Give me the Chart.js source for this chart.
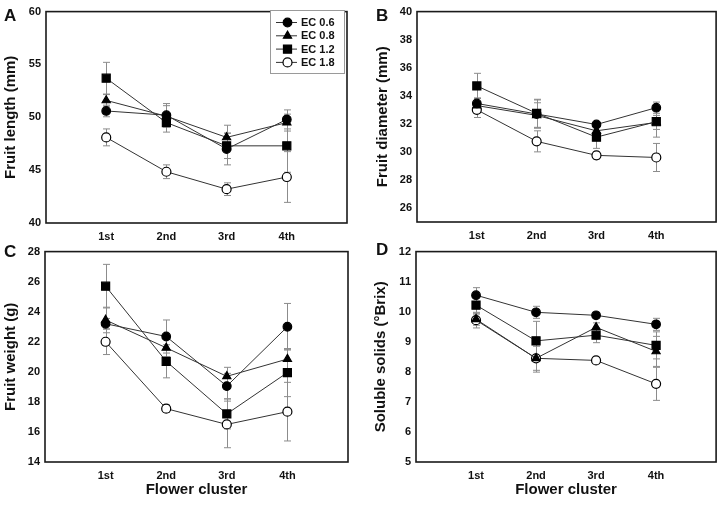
<!DOCTYPE html>
<html>
<head>
<meta charset="utf-8">
<script src="https://cdn.jsdelivr.net/npm/chart.js@4.4.0/dist/chart.umd.min.js"></script>
<style>
  body { margin: 0; background: #fff; width: 723px; height: 507px; overflow: hidden; position: relative; font-family: "Liberation Sans", Arial, sans-serif; }
  .panel { position: absolute; }
  .tag { position: absolute; font-weight: bold; font-size: 17px; color: #111; line-height: 1; }
</style>
</head>
<body>
<div class="panel" style="left:0;top:0"><canvas id="chartA" width="361" height="250"></canvas></div>
<div class="panel" style="left:361px;top:0"><canvas id="chartB" width="362" height="250"></canvas></div>
<div class="panel" style="left:0;top:240px"><canvas id="chartC" width="361" height="267"></canvas></div>
<div class="panel" style="left:361px;top:240px"><canvas id="chartD" width="362" height="267"></canvas></div>
<div class="tag" style="left:4px;top:7px">A</div>
<div class="tag" style="left:376px;top:7px">B</div>
<div class="tag" style="left:4px;top:243px">C</div>
<div class="tag" style="left:376px;top:241px">D</div>

<script>
// --- Data ---
const clusters = ['1st', '2nd', '3rd', '4th'];
const seriesNames = ['EC 0.6', 'EC 0.8', 'EC 1.2', 'EC 1.8'];

// series order: EC 0.6, EC 0.8, EC 1.2, EC 1.8
const lengthMeans = [
    [50.6, 50.2, 47.0, 49.8],
    [51.6, 50.1, 48.1, 49.5],
    [53.7, 49.5, 47.3, 47.3],
    [48.1, 44.85, 43.2, 44.35]
];
const lengthErrs = [
    [0.55, 1.1, 1.5, 0.9],
    [0.55, 1.0, 1.15, 0.8],
    [1.5, 0.9, 1.2, 2.5],
    [0.8, 0.65, 0.6, 2.4]
];
const lengthTicks = [40, 45, 50, 55, 60];

const diameterMeans = [
    [33.45, 32.7, 31.95, 33.15],
    [33.3, 32.6, 31.5, 32.1],
    [34.7, 32.75, 31.05, 32.15],
    [33.0, 30.75, 29.75, 29.6]
];
const diameterErrs = [
    [0.4, 1.0, 0.2, 0.4],
    [0.5, 0.9, 0.3, 0.5],
    [0.9, 1.0, 0.8, 1.1],
    [0.55, 0.75, 0.25, 1.0]
];
const diameterTicks = [26, 28, 30, 32, 34, 36, 38, 40];

const weightMeans = [
    [23.2, 22.35, 19.05, 23.0],
    [23.45, 21.6, 19.7, 20.85],
    [25.7, 20.7, 17.2, 19.95],
    [22.0, 17.55, 16.5, 17.35]
];
const weightErrs = [
    [0.35, 1.1, 0.85, 1.55],
    [0.85, 0.6, 0.6, 0.65],
    [1.45, 1.1, 1.0, 1.6],
    [0.85, 0.25, 1.55, 1.95]
];
const weightTicks = [14, 16, 18, 20, 22, 24, 26, 28];

const brixMeans = [
    [10.55, 9.98, 9.88, 9.58],
    [9.75, 8.45, 9.48, 8.68],
    [10.22, 9.03, 9.22, 8.88],
    [9.72, 8.45, 8.38, 7.6]
];
const brixErrs = [
    [0.25, 0.2, 0.08, 0.2],
    [0.2, 0.4, 0.15, 0.5],
    [0.3, 0.65, 0.25, 0.45],
    [0.26, 0.46, 0.1, 0.55]
];
const brixTicks = [5, 6, 7, 8, 9, 10, 11, 12];

// --- Styles ---
const markerStyles = ['circle', 'triangle', 'rect', 'circle'];
const markerRadius = [4.3, 4.7, 5.7, 4.5];
const markerFill = ['#000', '#000', '#000', '#fff'];
const FONT = '"Liberation Sans", Arial, sans-serif';

// gray error bars with caps, drawn under the lines
const errorBars = {
    id: 'errorBars',
    beforeDatasetsDraw(chart) {
        const { ctx, scales: { x, y } } = chart;
        ctx.save();
        ctx.strokeStyle = '#8c8c8c';
        ctx.lineWidth = 1;
        chart.data.datasets.forEach(ds => {
            ds.data.forEach((p, i) => {
                const e = ds.errors[i];
                const px = Math.round(x.getPixelForValue(p.x)) + 0.5;
                const top = y.getPixelForValue(p.y + e);
                const bot = y.getPixelForValue(p.y - e);
                ctx.beginPath();
                ctx.moveTo(px, top); ctx.lineTo(px, bot);
                ctx.moveTo(px - 3.5, top); ctx.lineTo(px + 3.5, top);
                ctx.moveTo(px - 3.5, bot); ctx.lineTo(px + 3.5, bot);
                ctx.stroke();
            });
        });
        ctx.restore();
    }
};

// box around the plot area
const frame = {
    id: 'frame',
    afterDraw(chart) {
        const { ctx, chartArea: a } = chart;
        ctx.save();
        ctx.strokeStyle = '#1a1a1a';
        ctx.lineWidth = 1.6;
        ctx.strokeRect(a.left, a.top, a.right - a.left, a.bottom - a.top);
        ctx.restore();
    }
};

// legend box drawn inside panel A
const boxLegend = {
    id: 'boxLegend',
    afterDraw(chart, args, opts) {
        if (!opts.show) return;
        const { ctx } = chart;
        ctx.save();
        ctx.fillStyle = '#fff';
        ctx.fillRect(opts.x, opts.y, opts.w, opts.h);
        ctx.strokeStyle = '#9a9a9a';
        ctx.lineWidth = 1;
        ctx.strokeRect(opts.x + 0.5, opts.y + 0.5, opts.w, opts.h);
        chart.data.datasets.forEach((ds, i) => {
            const cy = opts.y + 12.5 + i * 13.3;
            ctx.strokeStyle = '#333';
            ctx.beginPath();
            ctx.moveTo(opts.x + 6, cy); ctx.lineTo(opts.x + 27, cy);
            ctx.stroke();
            ctx.fillStyle = ds.pointBackgroundColor;
            ctx.strokeStyle = '#000';
            ctx.lineWidth = 1.2;
            Chart.helpers.drawPoint(ctx, {
                pointStyle: ds.pointStyle, radius: ds.pointRadius, borderWidth: 1.2
            }, opts.x + 17.5, cy);
            ctx.lineWidth = 1;
            ctx.fillStyle = '#111';
            ctx.font = 'bold 11px ' + FONT;
            ctx.textBaseline = 'middle';
            ctx.fillText(ds.label, opts.x + 31, cy + 0.5);
        });
        ctx.restore();
    }
};

function makePanel(canvasId, means, errs, ticks, yTitle, box) {
    const datasets = seriesNames.map((name, s) => ({
        label: name,
        data: means[s].map((v, i) => ({ x: i + 1, y: v })),
        errors: errs[s],
        borderColor: '#333',
        borderWidth: 1,
        pointStyle: markerStyles[s],
        pointRadius: markerRadius[s],
        pointBackgroundColor: markerFill[s],
        pointBorderColor: '#000',
        pointBorderWidth: 1.2
    }));

    new Chart(document.getElementById(canvasId), {
        type: 'line',
        data: { datasets: datasets },
        options: {
            responsive: false,
            animation: false,
            layout: { padding: { top: box.top, right: box.right, left: 0, bottom: box.bottom } },
            plugins: {
                legend: { display: false },
                tooltip: { enabled: false },
                boxLegend: box.legend || { show: false }
            },
            scales: {
                x: {
                    type: 'linear',
                    min: 0,
                    max: 5,
                    grid: { display: false, drawTicks: false },
                    border: { display: false },
                    afterBuildTicks: (s) => { s.ticks = clusters.map((c, i) => ({ value: i + 1 })); },
                    afterFit: (s) => { s.height = box.xh; },
                    ticks: {
                        padding: 7,
                        color: '#111',
                        font: { family: FONT, size: 11, weight: 'bold' },
                        callback: (v) => clusters[v - 1]
                    },
                    title: {
                        display: box.xTitle,
                        text: 'Flower cluster',
                        color: '#111',
                        padding: { top: 0, bottom: 0 },
                        font: { family: FONT, size: 15, weight: 'bold' }
                    }
                },
                y: {
                    min: ticks[0] - (box.yPad || 0),
                    max: ticks[ticks.length - 1],
                    grid: { display: false, drawTicks: false },
                    border: { display: false },
                    afterBuildTicks: (s) => { s.ticks = ticks.map(t => ({ value: t })); },
                    afterFit: (s) => { s.width = box.yw; },
                    ticks: {
                        padding: 5,
                        color: '#111',
                        font: { family: FONT, size: 11, weight: 'bold' }
                    },
                    title: {
                        display: true,
                        text: yTitle,
                        color: '#111',
                        padding: { top: box.yTitlePad, bottom: 0 },
                        font: { family: FONT, size: 15, weight: 'bold' }
                    }
                }
            }
        },
        plugins: [errorBars, frame, boxLegend]
    });
}

makePanel('chartA', lengthMeans, lengthErrs, lengthTicks, 'Fruit length (mm)', {
    top: 9, right: 14, bottom: 0, xh: 27, yw: 46, yTitlePad: 2, xTitle: false,
    legend: { show: true, x: 270, y: 10, w: 74, h: 63 }
});
makePanel('chartB', diameterMeans, diameterErrs, diameterTicks, 'Fruit diameter (mm)', {
    top: 9, right: 4, bottom: 0, xh: 28, yw: 56, yTitlePad: 12.5, xTitle: false, yPad: 1
});
makePanel('chartC', weightMeans, weightErrs, weightTicks, 'Fruit weight (g)', {
    top: 5, right: 13, bottom: 8, xh: 37, yw: 45, yTitlePad: 2, xTitle: true
});
makePanel('chartD', brixMeans, brixErrs, brixTicks, 'Soluble solids (°Brix)', {
    top: 6, right: 5, bottom: 8, xh: 37, yw: 55, yTitlePad: 10.5, xTitle: true
});
</script>
</body>
</html>
